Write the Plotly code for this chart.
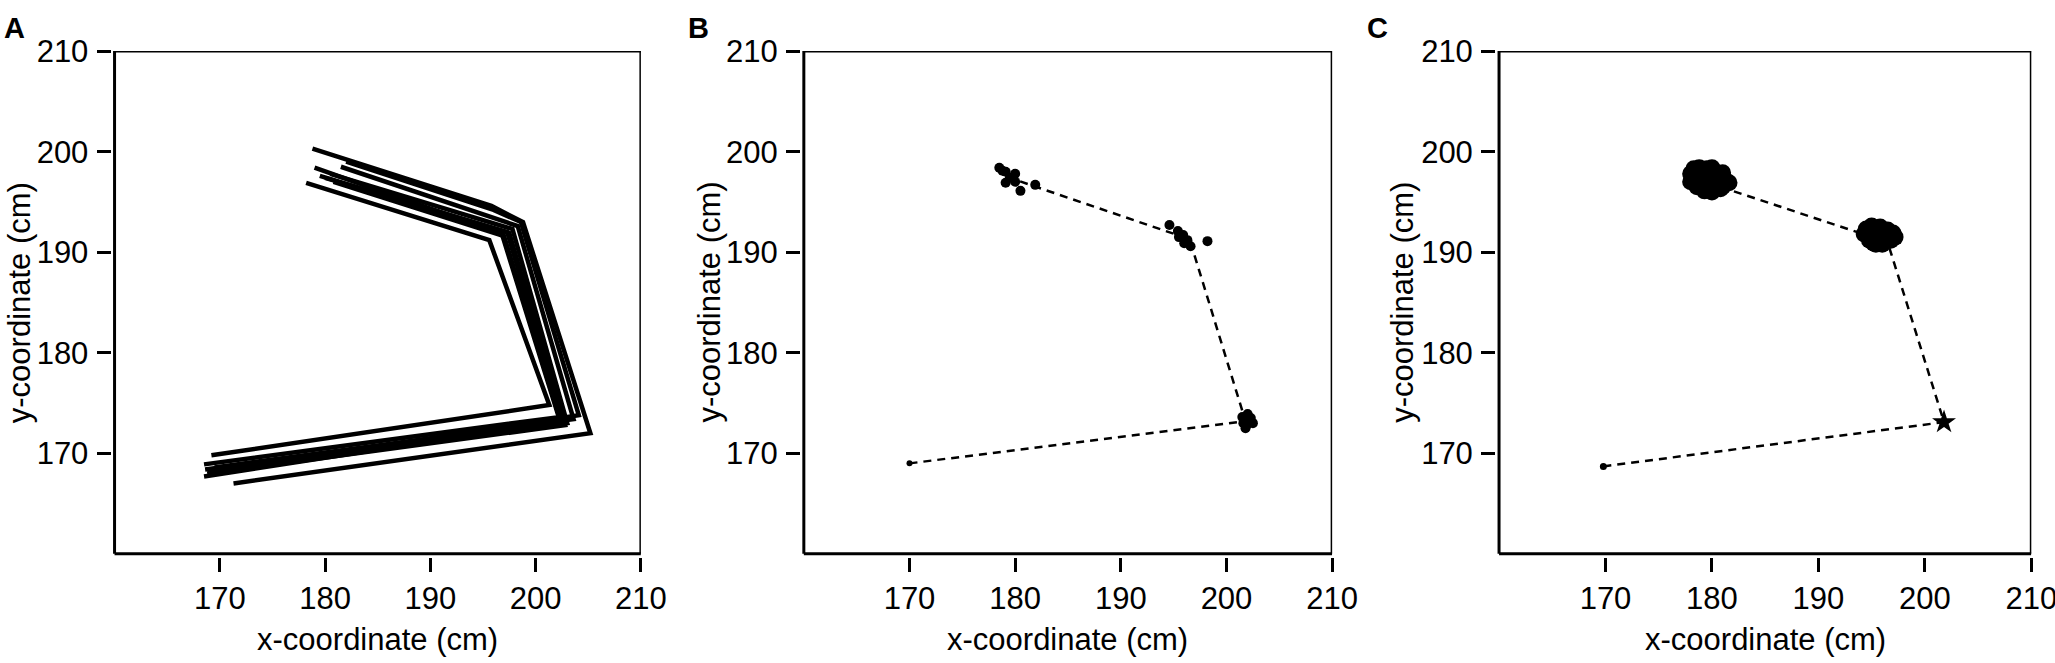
import plotly.graph_objects as go

# ---- panel A: repeated trajectories (x, y vertices per trial)
traj_a_x = [
    [169.2, 201.3, 195.6, 178.2],
    [168.5, 202.2, 196.8, 179.0],
    [168.5, 202.6, 197.3, 180.0],
    [169.0, 203.0, 197.8, 180.5],
    [168.8, 202.8, 197.5, 179.5],
    [169.5, 203.6, 198.3, 181.5],
    [168.6, 202.4, 197.0, 180.8],
    [170.0, 204.1, 198.6, 196.0, 182.0],
    [171.3, 205.2, 198.8, 195.8, 178.8],
]
traj_a_y = [
    [169.8, 174.8, 191.2, 196.9],
    [168.9, 173.6, 191.8, 198.4],
    [167.7, 173.2, 192.0, 197.4],
    [168.3, 173.0, 192.3, 197.8],
    [168.0, 172.8, 191.9, 197.6],
    [168.6, 173.4, 192.6, 198.5],
    [168.4, 173.1, 191.6, 197.0],
    [168.2, 173.8, 193.0, 194.2, 199.0],
    [167.0, 172.0, 193.0, 194.6, 200.3],
]

# ---- panel B: mean path + individual positions
path_b_x = [170.0, 201.8, 196.5, 180.3]
path_b_y = [169.0, 173.2, 191.3, 197.1]
pts_b_x = [178.5, 179.1, 180.0, 179.1, 180.0, 180.5, 181.9, 179.5, 178.8,
           194.6, 195.4, 195.9, 196.3, 196.6, 198.2, 195.5, 196.0,
           201.5, 202.3, 201.9, 202.5, 201.6, 202.0, 201.8]
pts_b_y = [198.4, 198.0, 197.8, 196.9, 197.0, 196.1, 196.7, 197.4, 198.1,
           192.7, 192.1, 191.7, 191.2, 190.6, 191.1, 191.5, 190.9,
           173.6, 173.5, 172.8, 173.0, 173.0, 173.9, 172.5]

# ---- panel C: mean path + dense clouds
path_c_x = [169.8, 201.8, 196.5, 180.5]
path_c_y = [168.7, 173.1, 191.0, 196.6]
cloud_c_x = [178.0, 178.0, 178.3, 178.6, 178.8, 179.0, 179.3, 179.5, 179.8, 180.0,
             180.3, 180.5, 180.8, 181.0, 181.3, 181.6, 179.0, 180.0, 181.0, 178.5,
             179.6, 180.6,
             194.3, 194.5, 194.8, 195.0, 195.2, 195.5, 195.8, 196.0, 196.3, 196.5,
             196.8, 197.0, 197.2, 195.4, 196.2, 194.8]
cloud_c_y = [197.0, 197.8, 198.3, 196.5, 198.4, 197.4, 196.1, 198.3, 197.0, 196.0,
             198.0, 197.3, 196.3, 197.9, 197.1, 196.9, 196.8, 198.4, 196.5, 197.7,
             196.5, 196.8,
             191.8, 192.3, 191.2, 192.6, 190.9, 191.8, 192.5, 190.8, 191.7, 192.2,
             191.2, 191.9, 191.5, 190.8, 191.1, 192.0]
star_c = [201.8, 173.1]

tick_vals = [170, 180, 190, 200, 210]
panel_labels = ["A", "B", "C"]
x_title = "x-coordinate (cm)"
y_title = "y-coordinate (cm)"

FONT = "Arial, Liberation Sans, sans-serif"
W, H = 2082, 663
# frame positions in figure pixels (calibrated against the rendered page)
boxes = [(116, 649), (814, 1349), (1518, 2057)]
box_top, box_bot = 35, 551
ytitle_x = [20, 718, 1420]
label_x = [15, 707, 1395]
label_y = 11
xtitle_y = 639
gap = 3  # pixel gap between frame and tick marks


def px(v):
    return v / W


def py(v):
    return 1 - v / H


fig = go.Figure()

for k in range(len(traj_a_x)):
    fig.add_trace(go.Scatter(x=traj_a_x[k], y=traj_a_y[k], mode="lines",
                             line=dict(color="black", width=4.5),
                             xaxis="x", yaxis="y", showlegend=False))

fig.add_trace(go.Scatter(x=path_b_x, y=path_b_y, mode="lines",
                         line=dict(color="black", width=2.5, dash="8px,6px"),
                         xaxis="x2", yaxis="y2", showlegend=False))
fig.add_trace(go.Scatter(x=pts_b_x, y=pts_b_y, mode="markers",
                         marker=dict(color="black", size=10),
                         xaxis="x2", yaxis="y2", showlegend=False))
fig.add_trace(go.Scatter(x=path_b_x[:1], y=path_b_y[:1], mode="markers",
                         marker=dict(color="black", size=6),
                         xaxis="x2", yaxis="y2", showlegend=False))

fig.add_trace(go.Scatter(x=path_c_x, y=path_c_y, mode="lines",
                         line=dict(color="black", width=2.5, dash="8px,6px"),
                         xaxis="x3", yaxis="y3", showlegend=False))
fig.add_trace(go.Scatter(x=cloud_c_x, y=cloud_c_y, mode="markers",
                         marker=dict(color="black", size=17),
                         xaxis="x3", yaxis="y3", showlegend=False))
fig.add_trace(go.Scatter(x=[star_c[0]], y=[star_c[1]], mode="markers",
                         marker=dict(color="black", size=18, symbol="star"),
                         xaxis="x3", yaxis="y3", showlegend=False))
fig.add_trace(go.Scatter(x=path_c_x[:1], y=path_c_y[:1], mode="markers",
                         marker=dict(color="black", size=7),
                         xaxis="x3", yaxis="y3", showlegend=False))

layout = dict(width=W, height=H, margin=dict(l=0, r=0, t=0, b=0),
              plot_bgcolor="white", paper_bgcolor="white",
              font=dict(family=FONT, color="black"))
shapes = []
annotations = []
for i, (left, right) in enumerate(boxes):
    sx = "" if i == 0 else str(i + 1)
    ppu_x = (right - left) / 50
    ppu_y = (box_bot - box_top) / 50
    dx, dy = gap / ppu_x, gap / ppu_y
    axis_common = dict(tickvals=tick_vals, ticks="outside", ticklen=14, tickwidth=2.5,
                       tickcolor="black", tickfont=dict(size=31, family=FONT, color="black"),
                       showgrid=False, zeroline=False, showline=False, fixedrange=True)
    layout["xaxis" + sx] = dict(axis_common, range=[160 - dx, 210], ticklabelstandoff=0,
                                domain=[px(left - gap), px(right)], anchor="y" + sx)
    layout["yaxis" + sx] = dict(axis_common, range=[160 - dy, 210], ticklabelstandoff=2,
                                domain=[py(box_bot + gap), py(box_top)], anchor="x" + sx)
    xr, yr = "x" + sx, "y" + sx
    # frame around each panel
    for x0, x1, y0, y1 in [(160, 160, 160, 210), (160, 210, 160, 160),
                           (160, 210, 210, 210), (210, 210, 160, 210)]:
        shapes.append(dict(type="line", xref=xr, yref=yr, x0=x0, x1=x1, y0=y0, y1=y1,
                           line=dict(color="black", width=3)))

    annotations.append(dict(text=x_title, x=px((left + right) / 2), y=py(xtitle_y),
                            xref="paper", yref="paper", showarrow=False,
                            xanchor="center", yanchor="middle",
                            font=dict(size=31, family=FONT, color="black")))
    annotations.append(dict(text=y_title, x=px(ytitle_x[i]), y=py((box_top + box_bot) / 2),
                            xref="paper", yref="paper", showarrow=False, textangle=-90,
                            xanchor="center", yanchor="middle",
                            font=dict(size=31, family=FONT, color="black")))
    annotations.append(dict(text="<b>" + panel_labels[i] + "</b>", x=px(label_x[i]),
                            y=py(label_y), xref="paper", yref="paper", showarrow=False,
                            xanchor="center", yanchor="middle",
                            font=dict(size=29, family=FONT, color="black")))

layout["shapes"] = shapes
layout["annotations"] = annotations
fig.update_layout(**layout)

# drop the default page margin so the figure sits at the window corner
fig.write_html("out.html", config={"displayModeBar": False},
               post_script="document.body.style.margin = '0';")
